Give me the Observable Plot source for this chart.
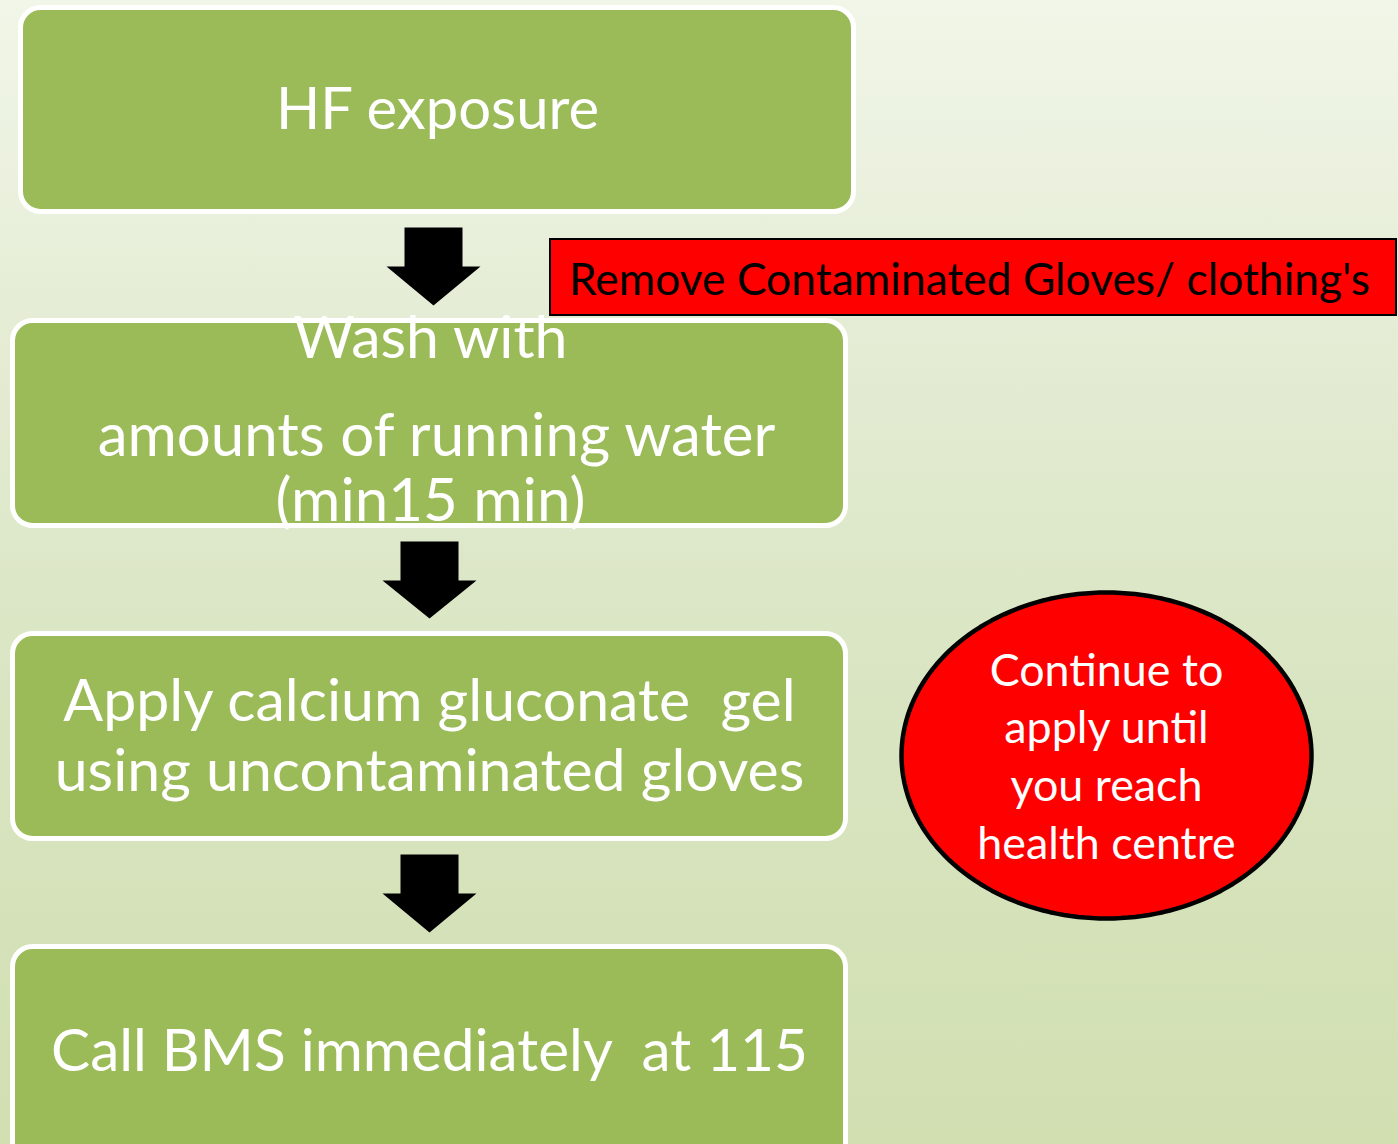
<!DOCTYPE html>
<html>
<head>
<meta charset="utf-8">
<script src="https://cdn.jsdelivr.net/npm/d3@7"></script>
<script src="https://cdn.jsdelivr.net/npm/@observablehq/plot@0.6"></script>
<style>
  html, body { margin: 0; padding: 0; background: #e6eed6; }
  #chart svg { display: block; }
</style>
</head>
<body>
<div id="chart"></div>
<script>
// ---- content ----
const stepLabels = [
  ["HF exposure"],
  ["Wash with", "amounts of running water", "(min15 min)"],
  ["Apply calcium gluconate  gel", "using uncontaminated gloves"],
  ["Call BMS immediately  at 115"]
];
const noteLabel = "Remove Contaminated Gloves/ clothing's";
const bubbleLines = ["Continue to", "apply until", "you reach", "health centre"];

// ---- layout (pixels) ----
const W = 1398, H = 1144;
const stepBoxes = [
  {x1: 20.5, x2: 853.5, y1: 7.5, y2: 211.5},
  {x1: 12.5, x2: 845.5, y1: 320.5, y2: 525.5},
  {x1: 12.5, x2: 845.5, y1: 633.5, y2: 838.5},
  {x1: 12.5, x2: 845.5, y1: 946.5, y2: 1170}
];
const stepLineLayout = [
  [{x: 437, y: 128, size: 58}],
  [{x: 430, y: 357, size: 59}, {x: 436, y: 455, size: 60}, {x: 430, y: 520, size: 60}],
  [{x: 429, y: 720, size: 59}, {x: 429, y: 790, size: 59}],
  [{x: 429, y: 1070, size: 58.5}]
];
const arrowLayout = [
  {cx: 433, top: 227, neck: 266, tip: 305},
  {cx: 429, top: 541, neck: 580, tip: 618},
  {cx: 429, top: 854, neck: 893, tip: 932}
];
const shaftHalf = 29, headHalf = 47;
const noteBox = {x1: 550, x2: 1396, y1: 239, y2: 315, tx: 969, ty: 294, size: 44.4};
const bubble = {cx: 1106, cy: 755, rx: 205, ry: 163};
const bubbleText = {x: 1106, ys: [685, 742, 800, 858], size: 44.8};

// ---- derived mark tables ----
const boxRows = stepBoxes.map((b, i) => ({...b, step: i}));
const textRows = [];
stepLabels.forEach((lines, i) => lines.forEach((t, j) => textRows.push({text: t, ...stepLineLayout[i][j]})));

const arrowPts = [];
arrowLayout.forEach((a, i) => {
  const pts = [
    [a.cx - shaftHalf, a.top], [a.cx + shaftHalf, a.top], [a.cx + shaftHalf, a.neck],
    [a.cx + headHalf, a.neck], [a.cx, a.tip], [a.cx - headHalf, a.neck],
    [a.cx - shaftHalf, a.neck], [a.cx - shaftHalf, a.top]
  ];
  pts.forEach(([x, y]) => arrowPts.push({id: i, x, y}));
});

const ellipsePts = d3.range(0, 361, 2).map(deg => {
  const t = deg * Math.PI / 180;
  return {x: bubble.cx + bubble.rx * Math.cos(t), y: bubble.cy + bubble.ry * Math.sin(t)};
});
const bubbleRows = bubbleLines.map((t, i) => ({text: t, x: bubbleText.x, y: bubbleText.ys[i]}));

const font = "Lato, 'Open Sans', sans-serif";

const chart = Plot.plot({
  width: W, height: H,
  margin: 0,
  x: {domain: [0, W], range: [0, W], axis: null},
  y: {domain: [0, H], range: [0, H], axis: null},
  style: {
    background: "linear-gradient(180deg, #f1f6e8 0%, #e4ecd4 30%, #d9e5c2 60%, #d1dfb1 100%)",
    fontFamily: font
  },
  marks: [
    Plot.rect(boxRows, {x1: "x1", x2: "x2", y1: "y1", y2: "y2", fill: "#9bbb59", stroke: "white", strokeWidth: 5, rx: 20}),
    Plot.line(arrowPts, {x: "x", y: "y", z: "id", fill: "black", stroke: "none", curve: "linear-closed"}),
    Plot.rect([noteBox], {x1: "x1", x2: "x2", y1: "y1", y2: "y2", fill: "#ff0000", stroke: "black", strokeWidth: 2}),
    Plot.text([noteLabel], {x: () => noteBox.tx, y: () => noteBox.ty, text: d => d, fill: "black", fontSize: noteBox.size, lineAnchor: "bottom", textAnchor: "middle", fontFamily: font}),
    ...textRows.map(r => Plot.text([r], {x: "x", y: "y", text: "text", fill: "white", fontSize: r.size, lineAnchor: "bottom", textAnchor: "middle", fontFamily: font})),
    Plot.line(ellipsePts, {x: "x", y: "y", fill: "#ff0000", stroke: "black", strokeWidth: 4.5, curve: "linear-closed"}),
    Plot.text(bubbleRows, {x: "x", y: "y", text: "text", fill: "white", fontSize: bubbleText.size, lineAnchor: "bottom", textAnchor: "middle", fontFamily: font})
  ]
});
document.getElementById("chart").appendChild(chart);
</script>
</body>
</html>
